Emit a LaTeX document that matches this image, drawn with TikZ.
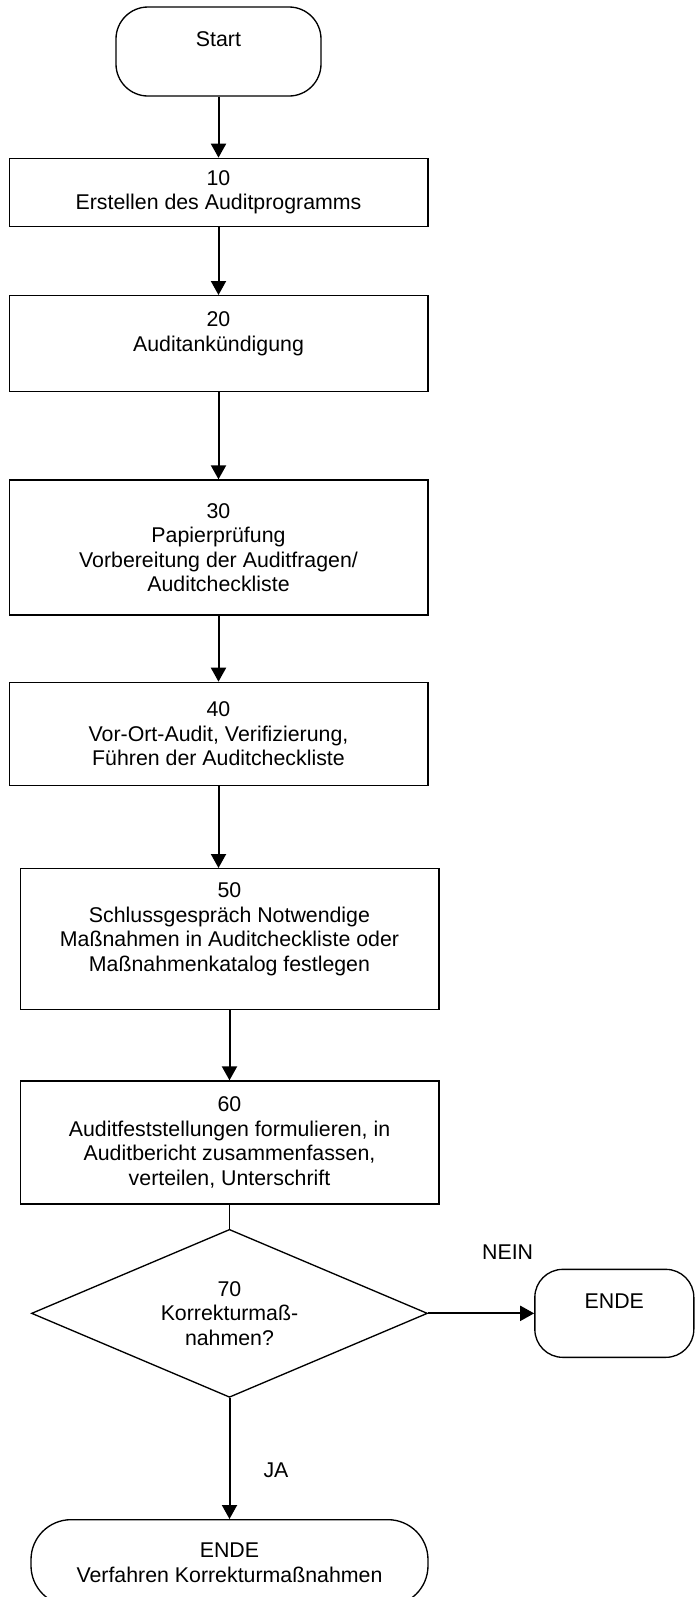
\documentclass[tikz,border=0pt]{standalone}
\usepackage{fontspec}
\setmainfont{Liberation Sans}
\usetikzlibrary{shapes.geometric, positioning, arrows.meta}
\tikzset{
>={Triangle[width=11.25pt,length=10.5pt]}, % filled arrow heads
block/.style={draw, line width=1pt, minimum width=314pt, minimum height=#1, inner sep=0pt, align=center, font=\fontsize{16}{18.4}\selectfont}, % process steps
terminal/.style={draw, line width=1pt, rounded corners=#1, inner sep=0pt, align=center, font=\fontsize{16}{18.4}\selectfont}, % start and end
decision/.style={draw, diamond, aspect=2.36, line width=1pt, minimum width=297pt, minimum height=126pt, inner sep=0pt, align=center, font=\fontsize{16}{18.4}\selectfont}, % the question
edge text/.style={inner sep=0pt, font=\fontsize{16}{18.4}\selectfont}, % NEIN and JA
}

\begin{document}
\begin{tikzpicture}[x=0.75pt, y=-0.75pt]
       \useasboundingbox (0,0) rectangle (694,1597);

       \node[terminal=24pt, minimum width=153.75pt, minimum height=66.75pt] (START) at (218.5,51.5) {Start\\~};
       \node[block=51pt, below=45.75pt of START] (s10) {10\\Erstellen des Auditprogramms};
       \node[block=72pt, below=51pt of s10] (s20) {20\\Auditankündigung\\~};
       \node[block=101.25pt, below=65.25pt of s20] (s30) {30\\Papierprüfung\\Vorbereitung der Auditfragen/\\Auditcheckliste};
       \node[block=77.25pt, below=49.5pt of s30] (s40) {40\\Vor-Ort-Audit, Verifizierung,\\Führen der Auditcheckliste};
       \node[block=105.75pt, below=61.5pt of s40, xshift=8.25pt] (s50) {50\\Schlussgespräch Notwendige\\Maßnahmen in Auditcheckliste oder\\Maßnahmenkatalog festlegen\\~};
       \node[block=92.25pt, below=52.5pt of s50] (s60) {60\\Auditfeststellungen formulieren, in\\Auditbericht zusammenfassen,\\verteilen, Unterschrift};
       \node[decision, below=18pt of s60] (q70) {70\\Korrekturmaß-\\nahmen?};
       \node[terminal=21pt, minimum width=119.25pt, minimum height=66pt, right=79.5pt of q70] (END1) {ENDE\\~};
       \node[terminal=30pt, minimum width=297.75pt, minimum height=64.5pt, below=90.75pt of q70] (END2) {ENDE\\Verfahren Korrekturmaßnahmen};

     \draw[->, line width=1.5pt] (START) edge (s10)
           (s10) edge (s20)
           (s20) edge (s30)
           (s30) edge (s40)
           (s50) edge (s60)
           (s60) edge[-, line width=1pt] (q70)
           (q70) edge node[edge text, pos=0.75, above=40pt] (nein) {NEIN} (END1)
           (q70) edge node[edge text, pos=0.6, right=24.75pt] (ja) {JA} (END2);
     \draw[->, line width=1.5pt] (s40.south) -- (s40.south |- s50.north);

  \end{tikzpicture}
\end{document}
